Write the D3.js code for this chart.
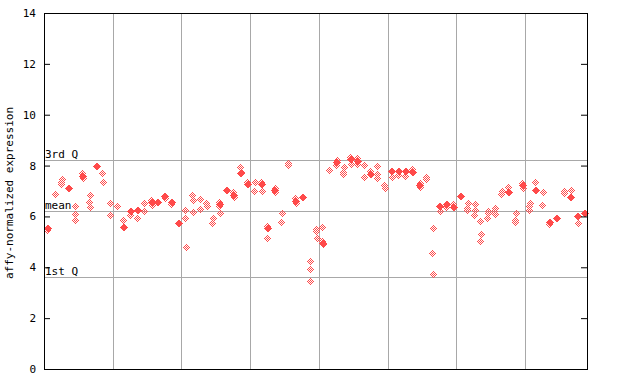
<!DOCTYPE html>
<html><head><meta charset="utf-8">
<script src="https://cdn.jsdelivr.net/npm/d3@7"></script>
<style>
html,body{margin:0;padding:0;background:#fff;}
svg{display:block;font-family:"DejaVu Sans Mono",monospace;}
</style></head>
<body><svg id="c" width="640" height="384"></svg>
<script>
// ---- data ----
const yTicks = [0, 2, 4, 6, 8, 10, 12, 14];
const sampleCount = 79;
const groupBreaks = [9.5, 19.5, 29.5, 39.5, 49.5, 59.5, 69.5];
const refLines = [
  {label: "3rd Q", value: 8.22},
  {label: "mean", value: 6.2},
  {label: "1st Q", value: 3.6}
];
// [sample index, value] — solid markers
const filledPoints = [
  [0,5.55],[3,7.1],[5,7.6],[7,8.0],[11,5.6],[12,6.21],[13,6.25],[15,6.55],[16,6.58],
  [17,6.82],[18,6.58],[19,5.73],[25,6.48],[26,7.04],[27,6.85],[28,7.69],[29,7.26],
  [31,7.29],[32,5.54],[33,7.04],[36,6.61],[37,6.75],[40,4.97],[42,8.13],[44,8.24],
  [45,8.19],[47,7.68],[50,7.8],[51,7.77],[52,7.8],[53,7.76],[54,7.22],[57,6.42],
  [58,6.48],[59,6.38],[60,6.82],[67,6.97],[69,7.25],[71,7.05],[73,5.79],[74,5.94],
  [76,6.78],[77,6.02],[78,6.15]
];
// [sample index, value] — checkered markers
const hatchedPoints = [
  [0,5.45],[1,6.88],[2,7.47],[2,7.37],[2,7.27],[4,6.41],[4,6.09],[4,5.86],[5,7.72],[5,7.5],
  [6,6.84],[6,6.58],[6,6.37],[8,7.69],[8,7.34],[9,6.51],[9,6.04],[10,6.42],[11,5.86],
  [12,6.05],[13,5.93],[14,6.53],[14,6.2],[15,6.65],[15,6.44],[17,6.71],[18,6.49],
  [20,6.24],[20,5.92],[20,4.79],[21,6.84],[21,6.63],[21,6.17],[22,6.68],[22,6.28],
  [23,6.51],[23,6.42],[24,5.94],[24,5.73],[25,6.55],[25,6.42],[25,6.13],[27,6.95],[27,6.76],
  [28,7.95],[28,7.75],[29,7.37],[30,7.34],[30,7.01],[31,7.37],[31,6.99],[32,5.62],[32,5.14],
  [33,7.13],[33,6.96],[34,6.12],[34,5.77],[35,8.11],[35,8.01],[36,6.71],[36,6.51],
  [38,4.25],[38,3.92],[38,3.45],[39,5.5],[39,5.43],[39,5.14],[40,5.57],[40,5.05],[40,4.9],
  [41,7.81],[42,8.23],[42,8.03],[43,7.93],[43,7.76],[43,7.66],[44,8.32],[44,8.06],
  [45,8.28],[45,8.05],[46,8.02],[46,7.56],[47,7.77],[48,7.97],[48,7.67],[48,7.52],
  [49,7.24],[49,7.13],[50,7.54],[51,7.63],[52,7.59],[53,7.85],[54,7.3],[54,7.14],
  [55,7.56],[55,7.46],[56,5.53],[56,4.55],[56,3.72],[57,6.2],[58,6.38],[59,6.47],
  [61,6.53],[61,6.34],[61,6.24],[62,6.49],[62,6.24],[62,6.07],[63,5.82],[63,5.3],[63,5.02],
  [64,6.22],[64,6.15],[64,5.95],[65,6.32],[65,6.22],[65,6.09],[66,7.0],[66,6.87],[67,7.14],
  [68,6.15],[68,5.86],[68,5.77],[69,7.33],[69,7.1],[70,6.51],[70,6.41],[70,6.25],[71,7.34],
  [72,6.96],[72,6.43],[73,5.7],[75,7.01],[75,6.91],[76,7.04],[77,5.73]
];
const yTitle = "affy-normalized expression";

// ---- layout ----
const mLeft = 44, mRight = 587, mTop = 13, mBottom = 369;
const red = "#ff4a4a", grid = "#a8a8a8";
const svg = d3.select("#c");
const x = d3.scaleLinear().domain([-0.5, sampleCount - 0.5]).range([mLeft, mRight]);
const y = d3.scaleLinear().domain([0, 14]).range([mBottom, mTop]);

const defs = svg.append("defs");
const pat = defs.append("pattern").attr("id", "chk").attr("patternUnits", "userSpaceOnUse")
  .attr("width", 2).attr("height", 2);
pat.append("rect").attr("x", 0).attr("y", 0).attr("width", 1).attr("height", 1).attr("fill", red);
pat.append("rect").attr("x", 1).attr("y", 1).attr("width", 1).attr("height", 1).attr("fill", red);

// grid lines
svg.append("g").selectAll("line").data(groupBreaks).join("line")
  .attr("x1", d => Math.round(x(d)) + 0.5).attr("x2", d => Math.round(x(d)) + 0.5)
  .attr("y1", mTop).attr("y2", mBottom).attr("stroke", grid).attr("stroke-width", 1);
svg.append("g").selectAll("line").data(refLines).join("line")
  .attr("x1", mLeft).attr("x2", mRight)
  .attr("y1", d => Math.round(y(d.value)) + 0.5).attr("y2", d => Math.round(y(d.value)) + 0.5)
  .attr("stroke", grid).attr("stroke-width", 1);
svg.append("g").selectAll("text").data(refLines).join("text")
  .attr("x", mLeft + 1).attr("y", d => Math.round(y(d.value)) - 2)
  .attr("font-size", 11).attr("fill", "#000").text(d => d.label);

// markers
function diamond(d) {
  const cx = Math.round(x(d[0])) + 0.5, cy = Math.round(y(d[1])) + 0.5;
  return `M${cx},${cy - 4}L${cx + 4},${cy}L${cx},${cy + 4}L${cx - 4},${cy}Z`;
}
svg.append("g").selectAll("path").data(hatchedPoints).join("path")
  .attr("d", diamond).attr("fill", "url(#chk)").attr("shape-rendering", "crispEdges");
svg.append("g").selectAll("path").data(filledPoints).join("path")
  .attr("d", diamond).attr("fill", red).attr("shape-rendering", "crispEdges");

// axes
const ax = svg.append("g").attr("transform", `translate(${mLeft},0)`)
  .call(d3.axisLeft(y).tickValues(yTicks).tickSize(-6).tickPadding(8).tickFormat(d3.format("d")));
ax.select(".domain").remove();
ax.selectAll("line").attr("stroke", "#000");
ax.selectAll("text").attr("font-size", 11).attr("font-family", "DejaVu Sans Mono").attr("fill", "#000");
const axr = svg.append("g").attr("transform", `translate(${mRight},0)`)
  .call(d3.axisRight(y).tickValues(yTicks).tickSize(-6).tickFormat(""));
axr.select(".domain").remove();
axr.selectAll("line").attr("stroke", "#000");

// frame
svg.append("rect").attr("x", mLeft + 0.5).attr("y", mTop + 0.5)
  .attr("width", mRight - mLeft).attr("height", mBottom - mTop)
  .attr("fill", "none").attr("stroke", "#000").attr("stroke-width", 1);

// y title
svg.append("text").attr("transform", `translate(13,${(mTop + mBottom) / 2 + 2}) rotate(-90)`)
  .attr("text-anchor", "middle").attr("font-size", 11).attr("fill", "#000").text(yTitle);
</script></body></html>
